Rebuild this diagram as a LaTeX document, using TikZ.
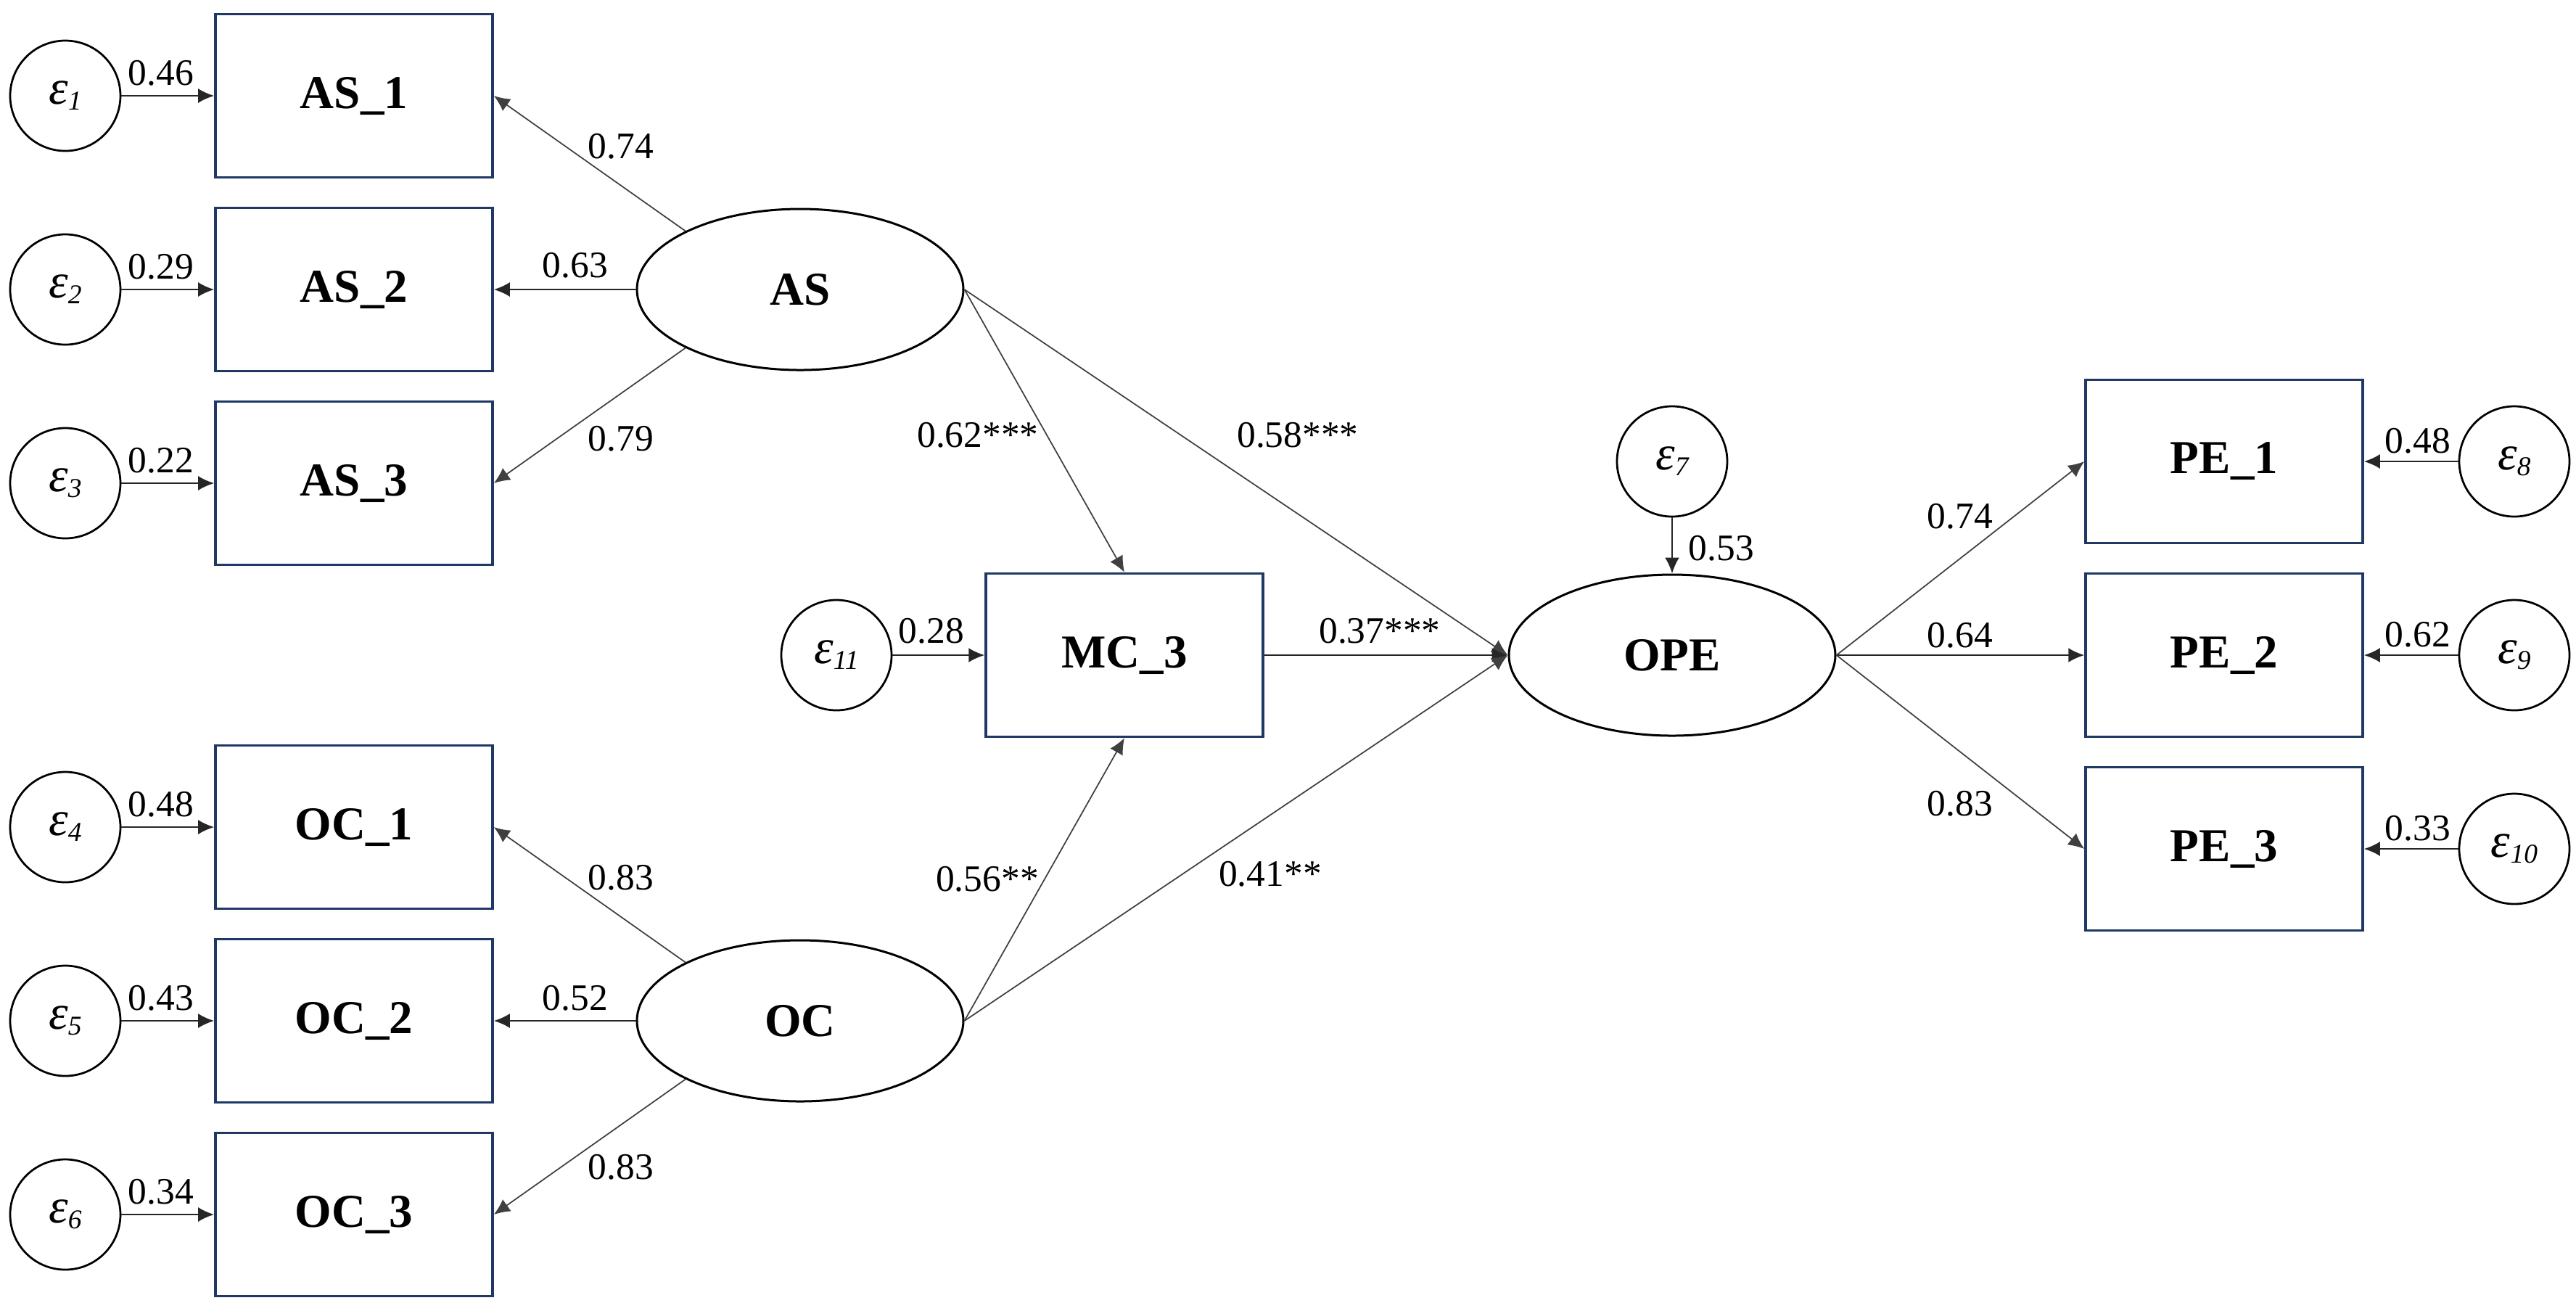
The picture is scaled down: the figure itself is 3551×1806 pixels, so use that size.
\documentclass[tikz,border=0pt]{standalone}
\usepackage{fontspec}
\setmainfont{Liberation Serif}
\usetikzlibrary{arrows.meta,shapes.geometric}
\definecolor{navy}{HTML}{1F3864}
\newcommand\epsnode[1]{ε\raisebox{-0.12em}{\fontsize{7.5}{8}\selectfont #1}}
\begin{document}
\begin{tikzpicture}[x=0.2pt,y=-0.2pt,
  obs/.style={draw=navy,line width=0.7pt,minimum width=76.4pt,minimum height=45pt,inner sep=0pt,font=\fontsize{13}{15}\selectfont\bfseries},
  lat/.style={draw=black,ellipse,line width=0.6pt,minimum width=90pt,minimum height=44.4pt,inner sep=0pt,font=\fontsize{13}{15}\selectfont\bfseries},
  err/.style={draw=black,circle,line width=0.55pt,minimum size=30.4pt,inner sep=0pt,font=\fontsize{13.5}{15}\selectfont\itshape},
  earr/.style={draw=black!85,line width=0.45pt,-{Latex[length=4.4pt,width=4pt]}},
  parr/.style={draw=black!75,line width=0.35pt,-{Latex[length=4.4pt,width=4pt]}},
  lab/.style={font=\fontsize{10.3}{12}\selectfont,inner sep=0pt}
]
\useasboundingbox (0,0) rectangle (3551,1806);
% observed left
\node[obs] (AS1) at (488,132) {AS\_1};
\node[obs] (AS2) at (488,399) {AS\_2};
\node[obs] (AS3) at (488,666) {AS\_3};
\node[obs] (OC1) at (488,1140) {OC\_1};
\node[obs] (OC2) at (488,1407) {OC\_2};
\node[obs] (OC3) at (488,1674) {OC\_3};
% errors left
\node[err] (e1) at (90,132) {\epsnode{1}};
\node[err] (e2) at (90,399) {\epsnode{2}};
\node[err] (e3) at (90,666) {\epsnode{3}};
\node[err] (e4) at (90,1140) {\epsnode{4}};
\node[err] (e5) at (90,1407) {\epsnode{5}};
\node[err] (e6) at (90,1674) {\epsnode{6}};
% latent
\node[lat] (AS) at (1103,399) {AS};
\node[lat] (OC) at (1103,1407) {OC};
\node[lat] (OPE) at (2305,903) {OPE};
% mediator
\node[obs] (MC3) at (1550,903) {MC\_3};
\node[err] (e11) at (1153,903) {\epsnode{11}};
\node[err] (e7) at (2305,636) {\epsnode{7}};
% right
\node[obs] (PE1) at (3066,636) {PE\_1};
\node[obs] (PE2) at (3066,903) {PE\_2};
\node[obs] (PE3) at (3066,1170) {PE\_3};
\node[err] (e8) at (3466,636) {\epsnode{8}};
\node[err] (e9) at (3466,903) {\epsnode{9}};
\node[err] (e10) at (3466,1170) {\epsnode{10}};
% error arrows
\draw[earr] (e1) -- (AS1);
\draw[earr] (e2) -- (AS2);
\draw[earr] (e3) -- (AS3);
\draw[earr] (e4) -- (OC1);
\draw[earr] (e5) -- (OC2);
\draw[earr] (e6) -- (OC3);
\draw[earr] (e11) -- (MC3);
\draw[earr] (e7) -- (OPE);
\draw[earr] (e8) -- (PE1);
\draw[earr] (e9) -- (PE2);
\draw[earr] (e10) -- (PE3);
% loadings
\draw[parr] (AS.153) -- (AS1.east);
\draw[earr] (AS) -- (AS2);
\draw[parr] (AS.207) -- (AS3.east);
\draw[parr] (OC.153) -- (OC1.east);
\draw[earr] (OC) -- (OC2);
\draw[parr] (OC.207) -- (OC3.east);
\draw[parr] (OPE.east) -- (PE1.west);
\draw[earr] (OPE) -- (PE2);
\draw[parr] (OPE.east) -- (PE3.west);
% structural
\draw[parr] (AS.east) -- (MC3.north);
\draw[parr] (AS.east) -- (OPE.west);
\draw[earr] (MC3) -- (OPE);
\draw[parr] (OC.east) -- (MC3.south);
\draw[parr] (OC.east) -- (OPE.west);
% labels
\node[lab] (l1) at (222,101) {0.46};
\node[lab] (l2) at (222,368) {0.29};
\node[lab] (l3) at (222,635) {0.22};
\node[lab] (l4) at (222,1109) {0.48};
\node[lab] (l5) at (222,1376) {0.43};
\node[lab] (l6) at (222,1643) {0.34};
\node[lab] (l7) at (856,202) {0.74};
\node[lab] (l8) at (793,366) {0.63};
\node[lab] (l9) at (856,605) {0.79};
\node[lab] (l10) at (856,1210) {0.83};
\node[lab] (l11) at (793,1376) {0.52};
\node[lab] (l12) at (856,1609) {0.83};
\node[lab] (l13) at (1348,600) {0.62***};
\node[lab] (l14) at (1789,600) {0.58***};
\node[lab] (l15) at (1284,870) {0.28};
\node[lab] (l16) at (1902,870) {0.37***};
\node[lab] (l17) at (1361,1212) {0.56**};
\node[lab] (l18) at (1751,1205) {0.41**};
\node[lab] (l19) at (2373,756) {0.53};
\node[lab] (l20) at (2702,712) {0.74};
\node[lab] (l21) at (2702,876) {0.64};
\node[lab] (l22) at (2702,1108) {0.83};
\node[lab] (l23) at (3333,608) {0.48};
\node[lab] (l24) at (3333,875) {0.62};
\node[lab] (l25) at (3333,1142) {0.33};
\end{tikzpicture}
\end{document}
